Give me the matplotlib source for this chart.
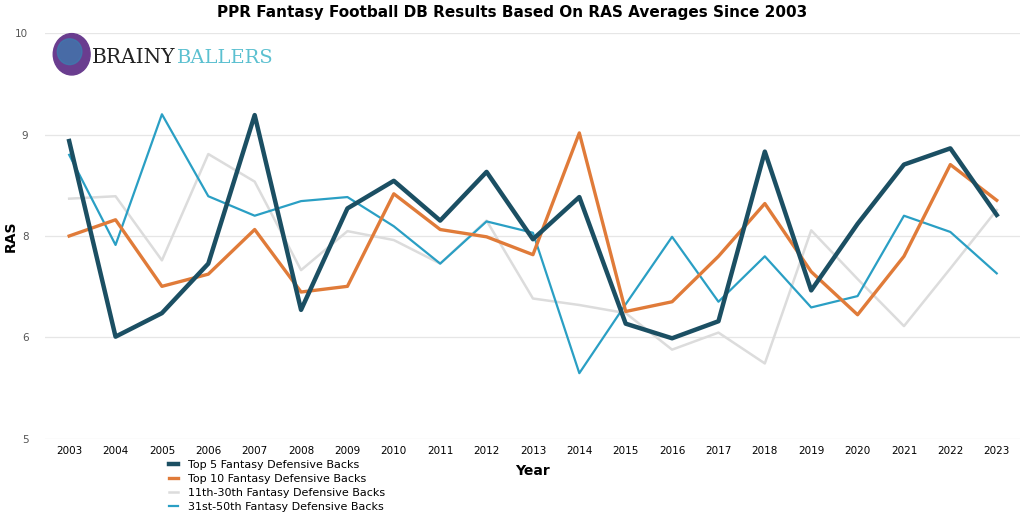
import matplotlib
matplotlib.use("Agg")
import matplotlib.pyplot as plt
from matplotlib.patches import Ellipse

# Data
years = list(range(2003, 2024))
top5 = [8.67, 6.26, 6.55, 7.16, 8.99, 6.59, 7.84, 8.18, 7.69, 8.29, 7.46,
        7.98, 6.42, 6.24, 6.45, 8.54, 6.83, 7.65, 8.38, 8.58, 7.76]
top10 = [7.50, 7.70, 6.88, 7.03, 7.58, 6.81, 6.88, 8.02, 7.58, 7.49, 7.27,
         8.77, 6.57, 6.69, 7.25, 7.90, 7.06, 6.53, 7.25, 8.38, 7.94]
mid = [7.96, 7.99, 7.20, 8.51, 8.17, 7.08, 7.56, 7.45, 7.16, 7.69, 6.73,
       6.65, 6.55, 6.10, 6.31, 5.93, 7.57, 6.97, 6.39, 7.10, 7.82]
low = [8.50, 7.39, 9.00, 7.99, 7.75, 7.93, 7.98, 7.62, 7.16, 7.68, 7.54,
       5.81, 6.66, 7.49, 6.69, 7.25, 6.62, 6.76, 7.75, 7.55, 7.04]

ytick_vals = [5, 6.25, 7.5, 8.75, 10]
ytick_labels = ["5", "6", "8", "9", "10"]

fig = plt.figure(figsize=(10.24, 5.17), dpi=100)
ax = fig.add_axes([0.044, 0.151, 0.952, 0.785])

ax.plot(years, mid, color="#dcdcdc", lw=1.8, label="11th-30th Fantasy Defensive Backs", zorder=2)
ax.plot(years, low, color="#2a9fc4", lw=1.6, label="31st-50th Fantasy Defensive Backs", zorder=3)
ax.plot(years, top10, color="#e07b39", lw=2.4, label="Top 10 Fantasy Defensive Backs", zorder=4)
ax.plot(years, top5, color="#1b4f63", lw=3.2, label="Top 5 Fantasy Defensive Backs", zorder=5)

ax.set_xlim(2002.48, 2023.5)
ax.set_ylim(5, 10)
ax.set_xticks(years)
ax.set_xticklabels([str(y) for y in years], fontsize=7.5)
ax.set_yticks(ytick_vals)
ax.set_yticklabels(ytick_labels, fontsize=7.5, color="#555555")
ax.tick_params(axis="both", length=0, pad=5)
ax.tick_params(axis="y", pad=12)
ax.grid(axis="y", color="#e6e6e6", lw=0.9)
ax.set_axisbelow(True)
for s in ax.spines.values():
    s.set_visible(False)

ax.set_xlabel("Year", fontsize=10, fontweight="bold", labelpad=6)
ax.set_ylabel("RAS", fontsize=10, fontweight="bold")
ax.yaxis.set_label_coords(-0.028, 0.5)
fig.text(0.5, 0.975, "PPR Fantasy Football DB Results Based On RAS Averages Since 2003",
         ha="center", va="center", fontsize=11, fontweight="bold")

# legend in reference order
handles, labels = ax.get_legend_handles_labels()
order = [3, 2, 0, 1]
fig.legend([handles[i] for i in order], [labels[i] for i in order],
           loc="upper left", bbox_to_anchor=(0.165, 0.11), frameon=False,
           fontsize=8, handlelength=0.8, handletextpad=0.9,
           labelspacing=0.35, borderaxespad=0, borderpad=0)

# logo
logo = fig.add_axes([0.05, 0.84, 0.04, 0.1])
logo.set_xlim(0, 1)
logo.set_ylim(0, 1)
logo.axis("off")
logo.add_patch(Ellipse((0.5, 0.55), 0.9, 0.8, color="#6a3d8f"))
logo.add_patch(Ellipse((0.45, 0.6), 0.6, 0.5, color="#3a7fb0", alpha=0.7))
fig.text(0.09, 0.888, "BRAINY", fontsize=14.5, family="DejaVu Serif", color="#222222", va="center")
fig.text(0.173, 0.888, "BALLERS", fontsize=14, family="DejaVu Serif", color="#5bc0d0", va="center")

fig.savefig("out.png", dpi=100)
